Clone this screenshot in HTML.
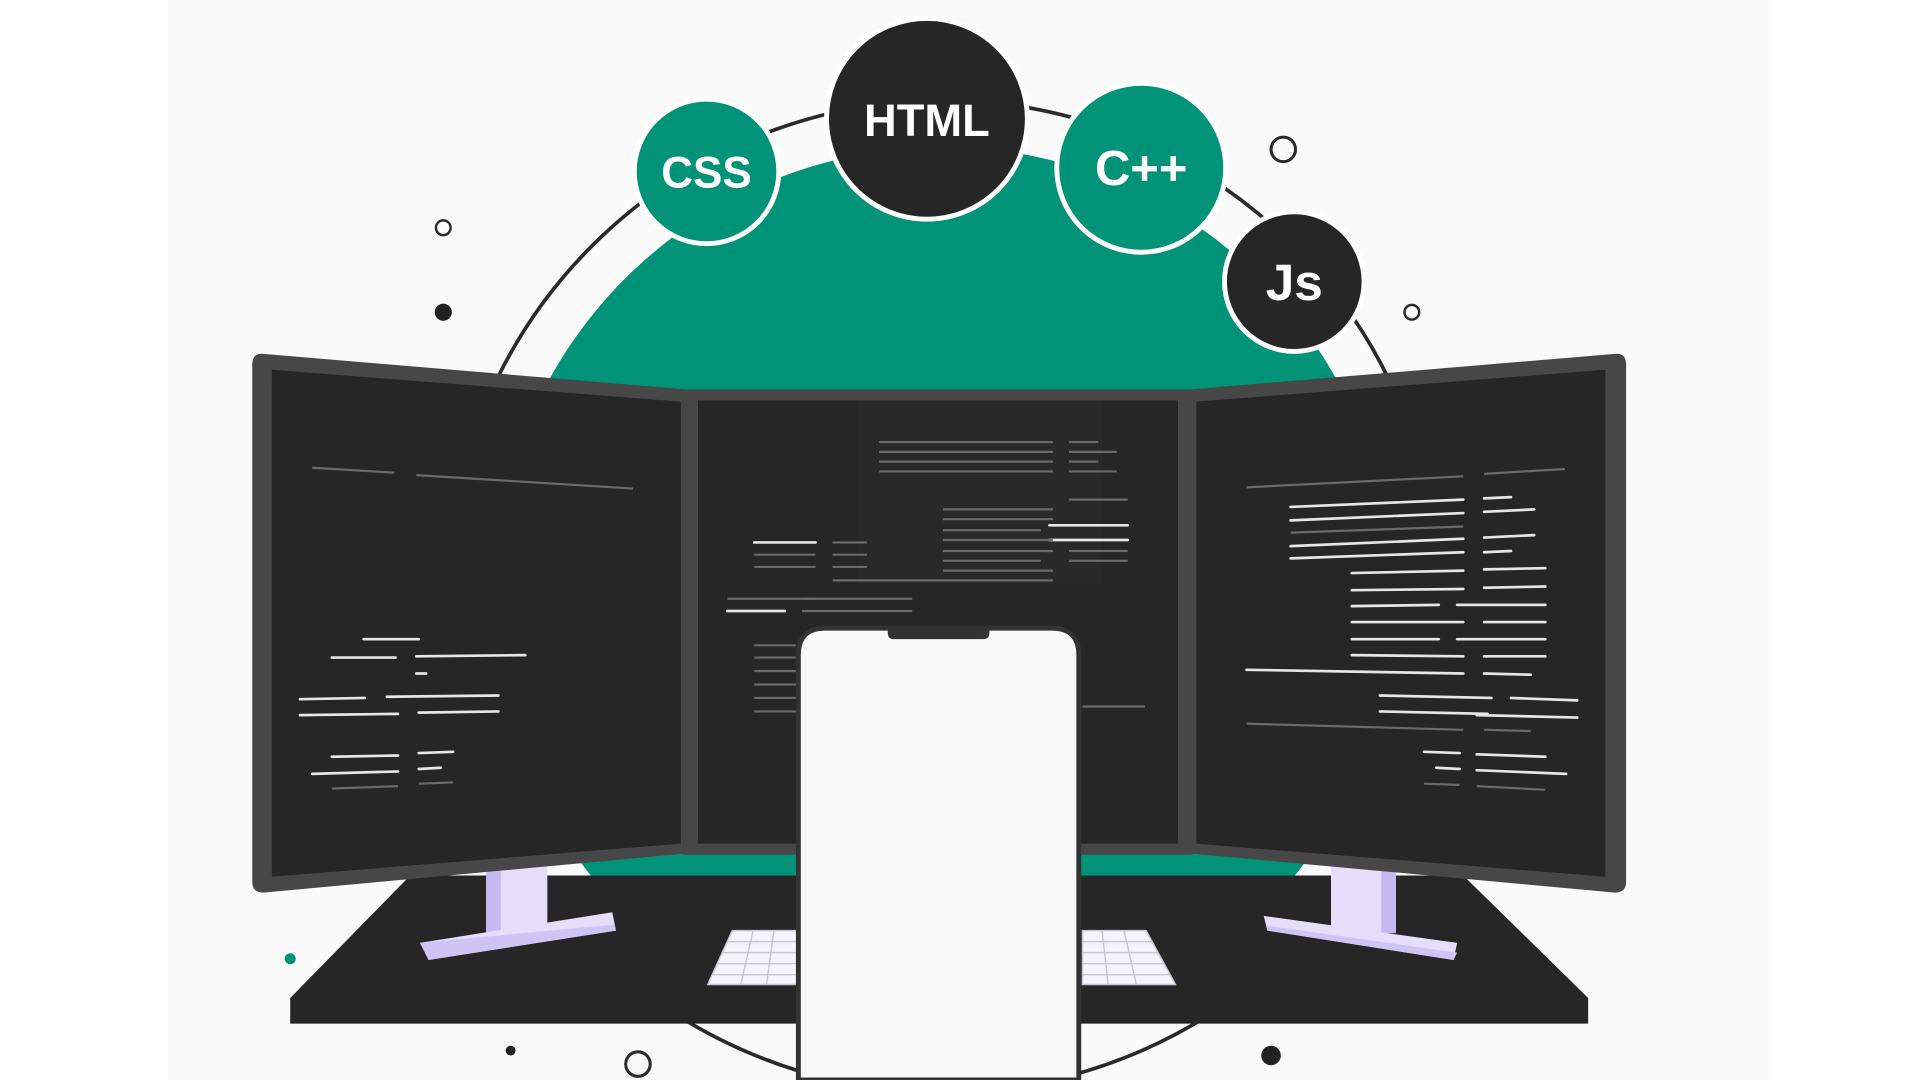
<!DOCTYPE html>
<html><head><meta charset="utf-8"><style>
html,body{margin:0;padding:0;width:1920px;height:1080px;overflow:hidden;background:#fff}
svg{display:block}
text{font-family:"Liberation Sans",sans-serif;font-weight:bold;fill:#fff;text-anchor:middle}
</style></head><body>
<svg width="1920" height="1080" viewBox="0 0 1568 882" xmlns="http://www.w3.org/2000/svg">
<rect x="137" y="0" width="1310" height="882" fill="#fafafa"/>
<circle cx="770" cy="487" r="405" fill="none" stroke="#2a2a2a" stroke-width="3"/>
<circle cx="770" cy="487" r="367" fill="#019377"/>
<circle cx="1048" cy="122" r="10" fill="none" stroke="#2a2a2a" stroke-width="2.5"/>
<circle cx="362" cy="186" r="6" fill="none" stroke="#2a2a2a" stroke-width="2"/>
<circle cx="362" cy="255" r="7" fill="#222"/>
<circle cx="1153" cy="255" r="6" fill="none" stroke="#2a2a2a" stroke-width="2"/>
<circle cx="237" cy="783" r="4.5" fill="#019377"/>
<circle cx="417" cy="858" r="4" fill="#222"/>
<circle cx="521" cy="869" r="10" fill="none" stroke="#2a2a2a" stroke-width="2.5"/>
<circle cx="1038" cy="862" r="8" fill="#222"/>
<circle cx="577" cy="140" r="59" fill="#019377" stroke="#fff" stroke-width="4"/>
<text x="577" y="153" font-size="36">CSS</text>
<circle cx="757" cy="97" r="82" fill="#262626" stroke="#fff" stroke-width="4"/>
<text x="757" y="111" font-size="37">HTML</text>
<circle cx="932" cy="137" r="69" fill="#019377" stroke="#fff" stroke-width="4"/>
<text x="932" y="151" font-size="40">C++</text>
<circle cx="1057" cy="230" r="57" fill="#262626" stroke="#fff" stroke-width="4"/>
<text x="1057" y="245" font-size="42">Js</text>
<polygon points="335,715 1195,715 1297,815 1297,836 237,836 237,815" fill="#262626"/>
<rect x="397" y="705" width="50" height="57" fill="#e4defb"/>
<rect x="397" y="705" width="12" height="57" fill="#c6baf2"/>
<polygon points="343,770 500,745 503,760 350,784" fill="#e4defb"/>
<polygon points="343,770 350,784 503,760 502,755" fill="#cfc5f5"/>
<rect x="1087" y="705" width="53" height="57" fill="#e4defb"/>
<rect x="1128" y="705" width="12" height="57" fill="#c6baf2"/>
<polygon points="1032,748 1190,770 1187,784 1035,760" fill="#e4defb"/>
<polygon points="1035,756 1190,778 1187,784 1035,760" fill="#cfc5f5"/>
<g stroke="#c9c5d6" stroke-width="1.2">
<polygon points="598,760 652,760 652,804 578,804" fill="#f5f4fa"/>
<polygon points="884,760 936,760 960,804 884,804" fill="#f5f4fa"/>
<line x1="594" y1="769" x2="652" y2="769"/><line x1="590" y1="778" x2="652" y2="778"/><line x1="586" y1="787" x2="652" y2="787"/><line x1="582" y1="796" x2="652" y2="796"/>
<line x1="884" y1="769" x2="941" y2="769"/><line x1="884" y1="778" x2="946" y2="778"/><line x1="884" y1="787" x2="951" y2="787"/><line x1="884" y1="796" x2="956" y2="796"/>
<line x1="615" y1="760" x2="605" y2="804"/><line x1="632" y1="760" x2="626" y2="804"/>
<line x1="900" y1="760" x2="905" y2="804"/><line x1="918" y1="760" x2="928" y2="804"/>
</g>
<path d="M215,289 L560,318 L560,697 L215,729 Q206,729 206,720 L206,298 Q206,288 215,289Z" fill="#474747"/>
<polygon points="222,302 556,328 556,689 222,716" fill="#262626"/>
<rect x="558" y="318" width="416" height="380" fill="#474747"/>
<rect x="570" y="327" width="392" height="362" fill="#262626"/>
<path d="M1319,289 L972,318 L972,697 L1319,729 Q1328,729 1328,720 L1328,298 Q1328,288 1319,289Z" fill="#474747"/>
<polygon points="977,328 1311,302 1311,716 977,689" fill="#262626"/>
<rect x="700" y="327" width="200" height="150" fill="#2c2c2c" opacity="0.6"/>
<g stroke="#e6e6e6" stroke-width="2.2" stroke-linecap="round">
<line x1="297" y1="522" x2="342" y2="522"/><line x1="271" y1="537" x2="323" y2="537"/><line x1="340" y1="536" x2="429" y2="535"/>
<line x1="340" y1="550" x2="348" y2="550"/>
<line x1="245" y1="571" x2="298" y2="570"/><line x1="316" y1="569" x2="407" y2="568"/>
<line x1="245" y1="584" x2="325" y2="583"/><line x1="342" y1="582" x2="407" y2="581"/>
<line x1="271" y1="618" x2="325" y2="617"/><line x1="342" y1="615" x2="370" y2="614"/>
<line x1="255" y1="632" x2="325" y2="630"/><line x1="342" y1="628" x2="360" y2="627"/>
<line x1="616" y1="443" x2="666" y2="443"/><line x1="594" y1="499" x2="641" y2="499"/>
<line x1="857" y1="429" x2="921" y2="429"/><line x1="857" y1="441" x2="921" y2="441"/>
<line x1="1054" y1="414" x2="1195" y2="408"/><line x1="1212" y1="407" x2="1234" y2="406"/>
<line x1="1054" y1="425" x2="1195" y2="419"/><line x1="1212" y1="418" x2="1253" y2="416"/>
<line x1="1054" y1="446" x2="1195" y2="440"/><line x1="1212" y1="439" x2="1253" y2="437"/>
<line x1="1054" y1="456" x2="1195" y2="451"/><line x1="1212" y1="451" x2="1234" y2="450"/>
<line x1="1104" y1="468" x2="1195" y2="466"/><line x1="1212" y1="465" x2="1262" y2="464"/>
<line x1="1104" y1="482" x2="1195" y2="481"/><line x1="1212" y1="480" x2="1262" y2="479"/>
<line x1="1104" y1="495" x2="1175" y2="494"/><line x1="1190" y1="494" x2="1262" y2="494"/>
<line x1="1104" y1="508" x2="1195" y2="508"/><line x1="1212" y1="508" x2="1262" y2="508"/>
<line x1="1104" y1="522" x2="1175" y2="522"/><line x1="1190" y1="522" x2="1262" y2="522"/>
<line x1="1104" y1="535" x2="1195" y2="536"/><line x1="1212" y1="536" x2="1262" y2="536"/>
<line x1="1018" y1="547" x2="1195" y2="550"/><line x1="1212" y1="550" x2="1250" y2="551"/>
<line x1="1127" y1="568" x2="1218" y2="570"/><line x1="1234" y1="570" x2="1288" y2="572"/>
<line x1="1127" y1="581" x2="1215" y2="583"/><line x1="1206" y1="584" x2="1288" y2="586"/>
<line x1="1163" y1="614" x2="1192" y2="615"/><line x1="1206" y1="616" x2="1262" y2="618"/>
<line x1="1173" y1="627" x2="1192" y2="628"/><line x1="1206" y1="629" x2="1279" y2="632"/>
</g>
<g stroke="#6a6a6a" stroke-width="1.8">
<line x1="255" y1="382" x2="322" y2="386"/><line x1="340" y1="388" x2="517" y2="399"/>
<line x1="271" y1="644" x2="325" y2="642"/><line x1="342" y1="640" x2="370" y2="639"/>
<line x1="1018" y1="398" x2="1195" y2="389"/><line x1="1212" y1="387" x2="1278" y2="383"/>
<line x1="1054" y1="435" x2="1195" y2="430"/><line x1="1018" y1="591" x2="1195" y2="596"/><line x1="1212" y1="596" x2="1250" y2="597"/>
<line x1="1163" y1="640" x2="1192" y2="641"/><line x1="1206" y1="642" x2="1262" y2="645"/>
<line x1="718" y1="361" x2="860" y2="361"/><line x1="718" y1="369" x2="860" y2="369"/><line x1="718" y1="377" x2="860" y2="377"/><line x1="718" y1="385" x2="860" y2="385"/>
<line x1="873" y1="361" x2="897" y2="361"/><line x1="873" y1="369" x2="912" y2="369"/><line x1="873" y1="377" x2="897" y2="377"/><line x1="873" y1="385" x2="912" y2="385"/>
<line x1="770" y1="416" x2="860" y2="416"/><line x1="770" y1="424" x2="860" y2="424"/><line x1="770" y1="433" x2="850" y2="433"/><line x1="770" y1="441" x2="860" y2="441"/><line x1="770" y1="450" x2="860" y2="450"/><line x1="770" y1="458" x2="850" y2="458"/><line x1="770" y1="466" x2="860" y2="466"/>
<line x1="873" y1="408" x2="921" y2="408"/><line x1="873" y1="450" x2="921" y2="450"/><line x1="873" y1="458" x2="921" y2="458"/>
<line x1="616" y1="453" x2="666" y2="453"/><line x1="616" y1="463" x2="666" y2="463"/><line x1="680" y1="443" x2="708" y2="443"/><line x1="680" y1="453" x2="708" y2="453"/><line x1="680" y1="463" x2="708" y2="463"/>
<line x1="680" y1="474" x2="860" y2="474"/><line x1="594" y1="489" x2="666" y2="489"/><line x1="655" y1="489" x2="745" y2="489"/><line x1="655" y1="499" x2="745" y2="499"/>
<line x1="616" y1="527" x2="650" y2="527"/><line x1="616" y1="537" x2="650" y2="537"/><line x1="616" y1="548" x2="650" y2="548"/><line x1="616" y1="559" x2="650" y2="559"/><line x1="616" y1="570" x2="650" y2="570"/><line x1="616" y1="581" x2="650" y2="581"/>
<line x1="884" y1="577" x2="935" y2="577"/>
</g>
<path d="M652,882 L652,535 Q652,513 674,513 L859,513 Q881,513 881,535 L881,882Z" fill="#f8f8f8" stroke="#333" stroke-width="4"/>
<path d="M725,513 L808,513 L808,517 Q808,522 803,522 L730,522 Q725,522 725,517Z" fill="#333"/>
</svg>
</body></html>
